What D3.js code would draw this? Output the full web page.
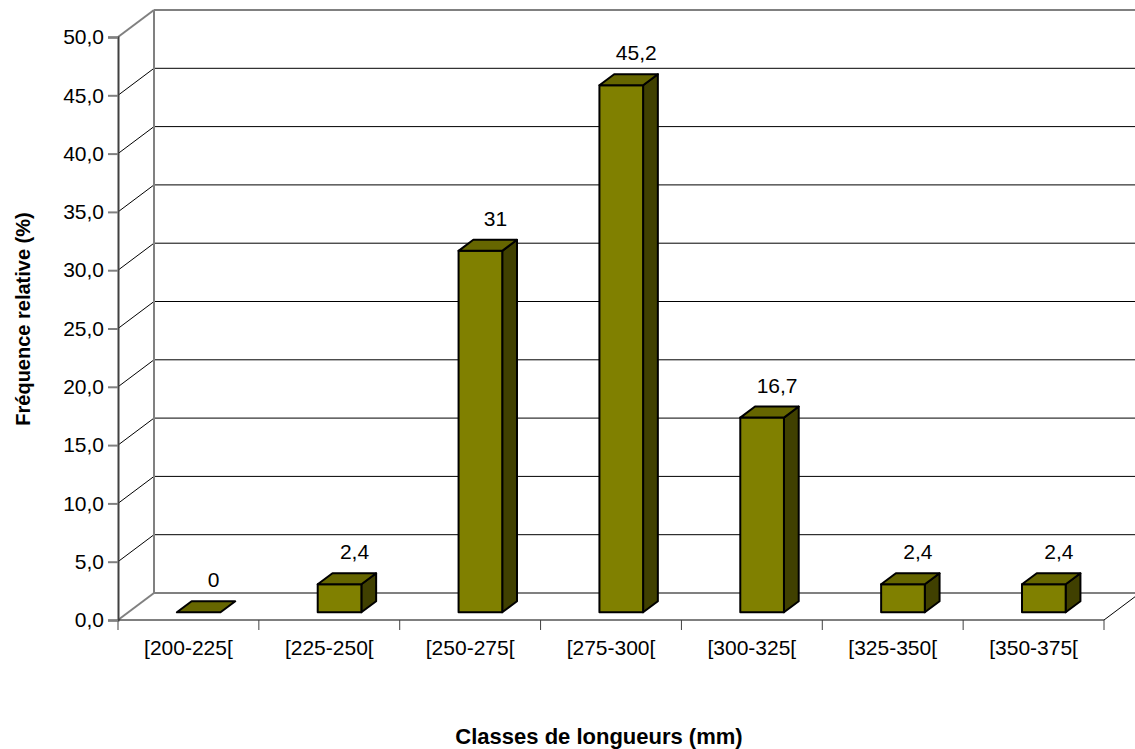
<!DOCTYPE html>
<html>
<head>
<meta charset="utf-8">
<script src="https://cdn.jsdelivr.net/npm/d3@7"></script>
<style>
  html, body { margin: 0; padding: 0; background: #fff; }
  svg { display: block; font-family: "Liberation Sans", Arial, sans-serif; }
</style>
</head>
<body>
<svg id="chart" width="1135" height="749"></svg>
<script>
// Length classes and their relative frequencies (%)
const categories = ["[200-225[", "[225-250[", "[250-275[", "[275-300[", "[300-325[", "[325-350[", "[350-375["];
const frequencies = [0, 2.4, 31, 45.2, 16.7, 2.4, 2.4];
const yTicks = [0, 5, 10, 15, 20, 25, 30, 35, 40, 45, 50];

const svg = d3.select("#chart");

// Front plane of the plot
const x = d3.scaleBand().domain(categories).range([118, 1104]).padding(0);
const y = d3.scaleLinear().domain([0, 50]).range([620, 37]);

// Depth of the 3D box (back wall offset)
const depth = { dx: 36, dy: -27 };
const wallRight = 1135 + 40;

const gray = "#808080";
const fmtAxis = d => d.toFixed(1).replace(".", ",");
const fmtLabel = d => String(d).replace(".", ",");

const walls = svg.append("g");

// Gridlines: side-wall diagonal + back-wall horizontal
yTicks.forEach(t => {
  const y0 = y(t);
  const edge = (t === 0 || t === 50);
  walls.append("line")
    .attr("x1", x.range()[0]).attr("y1", y0)
    .attr("x2", x.range()[0] + depth.dx).attr("y2", y0 + depth.dy)
    .attr("stroke", edge ? gray : "#000")
    .attr("stroke-width", edge ? 2 : 1);
  walls.append("line")
    .attr("x1", x.range()[0] + depth.dx).attr("y1", y0 + depth.dy)
    .attr("x2", wallRight).attr("y2", y0 + depth.dy)
    .attr("stroke", edge ? gray : "#000")
    .attr("stroke-width", edge ? 2 : 1);
});

// Back wall left edge
walls.append("line")
  .attr("x1", x.range()[0] + depth.dx).attr("y1", y(0) + depth.dy)
  .attr("x2", x.range()[0] + depth.dx).attr("y2", y(50) + depth.dy)
  .attr("stroke", gray).attr("stroke-width", 2);

// Floor: front edge and right diagonal
walls.append("line")
  .attr("x1", x.range()[0]).attr("y1", y(0))
  .attr("x2", x.range()[1]).attr("y2", y(0))
  .attr("stroke", "#000").attr("stroke-width", 1);
walls.append("line")
  .attr("x1", x.range()[1]).attr("y1", y(0))
  .attr("x2", x.range()[1] + depth.dx).attr("y2", y(0) + depth.dy)
  .attr("stroke", "#000").attr("stroke-width", 1);

// Category axis: ticks at class boundaries, labels centred in each class
const xAxis = svg.append("g");
const bounds = categories.map(c => x(c)).concat([x.range()[1]]);
bounds.forEach(b => {
  xAxis.append("line")
    .attr("x1", b).attr("x2", b)
    .attr("y1", y(0)).attr("y2", y(0) + 10)
    .attr("stroke", "#404040").attr("stroke-width", 1);
});
categories.forEach(c => {
  xAxis.append("text")
    .attr("x", x(c) + x.bandwidth() / 2)
    .attr("y", 655)
    .attr("text-anchor", "middle")
    .attr("font-size", 21)
    .attr("fill", "#000")
    .text(c);
});

// Value axis
const yAxis = svg.append("g")
  .attr("transform", `translate(${x.range()[0]},0)`)
  .call(d3.axisLeft(y).tickValues(yTicks).tickFormat(fmtAxis).tickSize(10).tickPadding(4));
yAxis.select(".domain").attr("stroke", "#404040").attr("stroke-width", 2);
yAxis.selectAll(".tick line").attr("stroke", gray).attr("stroke-width", 2);
yAxis.selectAll(".tick text")
  .attr("font-size", 21)
  .attr("font-family", "Liberation Sans, Arial, sans-serif")
  .attr("fill", "#000");

// 3D columns
const t1 = 0.285, t2 = 0.695;
const fOff = { dx: depth.dx * t1, dy: depth.dy * t1 };
const bDep = { dx: depth.dx * (t2 - t1), dy: depth.dy * (t2 - t1) };
const barW = x.bandwidth() * 0.31;

const bars = svg.append("g");
categories.forEach((c, i) => {
  const v = frequencies[i];
  const cx = x(c) + x.bandwidth() / 2 + fOff.dx;
  const xl = cx - barW / 2, xr = cx + barW / 2;
  const yb = y(0) + fOff.dy, yt = y(v) + fOff.dy;
  const g = bars.append("g")
    .attr("stroke", "#000").attr("stroke-width", 2).attr("stroke-linejoin", "round");
  if (v > 0) {
    g.append("polygon")
      .attr("points", [[xr, yt], [xr + bDep.dx, yt + bDep.dy], [xr + bDep.dx, yb + bDep.dy], [xr, yb]].join(" "))
      .attr("fill", "#404000");
    g.append("rect")
      .attr("x", xl).attr("y", yt)
      .attr("width", xr - xl).attr("height", yb - yt)
      .attr("fill", "#808000");
  }
  g.append("polygon")
    .attr("points", [[xl, yt], [xr, yt], [xr + bDep.dx, yt + bDep.dy], [xl + bDep.dx, yt + bDep.dy]].join(" "))
    .attr("fill", "#666600");

  // value label
  svg.append("text")
    .attr("x", cx + 15)
    .attr("y", yt - 25)
    .attr("text-anchor", "middle")
    .attr("font-size", 21)
    .attr("fill", "#000")
    .text(fmtLabel(v));
});

// Axis titles
svg.append("text")
  .attr("x", 599).attr("y", 744)
  .attr("text-anchor", "middle")
  .attr("font-size", 22).attr("font-weight", "bold")
  .text("Classes de longueurs (mm)");

svg.append("text")
  .attr("transform", "translate(30,319) rotate(-90)")
  .attr("text-anchor", "middle")
  .attr("font-size", 20).attr("font-weight", "bold")
  .text("Fréquence relative (%)");
</script>
</body>
</html>
